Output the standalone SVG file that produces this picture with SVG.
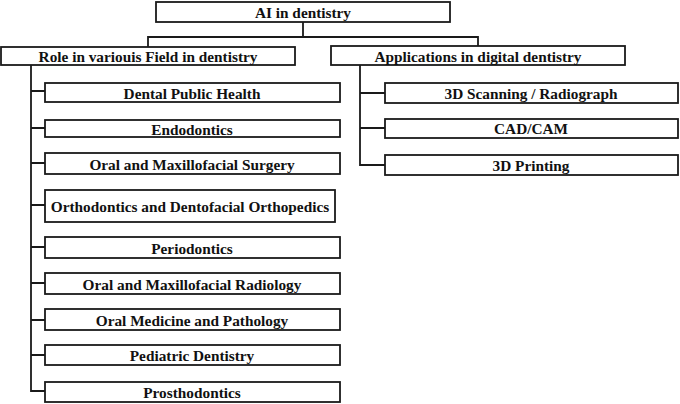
<svg xmlns="http://www.w3.org/2000/svg" width="680" height="404" viewBox="0 0 680 404">
<style>
.box{fill:#fff;stroke:#1a1a1a;stroke-width:1.8}
.t{font-family:"Liberation Serif","Times New Roman",serif;font-weight:bold;font-size:15.3px;fill:#111;text-anchor:middle;dominant-baseline:central}
.c{fill:none;stroke:#1a1a1a;stroke-width:1.8}
</style>
<rect width="680" height="404" fill="#fff"/>
<g id="connectors">
<path class="c" d="M303 22V37M148 47V37H478V47"/>
<path class="c" d="M31 65V391H45M31 91H45M31 128H45M31 163H45M31 205H45M31 247H45M31 283H45M31 320H45M31 355H45"/>
<path class="c" d="M360 65V165H385M360 93H385M360 128H385"/>
</g>
<g id="root"><rect class="box" x="156" y="2" width="294" height="20"/><text class="t" x="303" y="12.5">AI in dentistry</text></g>
<g id="role"><rect class="box" x="1" y="47" width="294" height="18"/><text class="t" x="148" y="56.5">Role in variouis Field in dentistry</text></g>
<g id="apps"><rect class="box" x="331" y="46" width="294" height="19"/><text class="t" x="478" y="56">Applications in digital dentistry</text></g>
<g id="dph"><rect class="box" x="45" y="83" width="295" height="19"/><text class="t" x="192" y="93">Dental Public Health</text></g>
<g id="endo"><rect class="box" x="45" y="120" width="295" height="17"/><text class="t" x="192" y="129">Endodontics</text></g>
<g id="oms"><rect class="box" x="45" y="153" width="295" height="21"/><text class="t" x="192" y="164">Oral and Maxillofacial Surgery</text></g>
<g id="ortho"><rect class="box" x="45" y="190" width="290" height="32"/><text class="t" x="190" y="206.5">Orthodontics and Dentofacial Orthopedics</text></g>
<g id="perio"><rect class="box" x="45" y="237" width="295" height="21"/><text class="t" x="192" y="248">Periodontics</text></g>
<g id="omr"><rect class="box" x="45" y="273" width="295" height="21"/><text class="t" x="192" y="284">Oral and Maxillofacial Radiology</text></g>
<g id="omp"><rect class="box" x="45" y="309" width="295" height="21"/><text class="t" x="192" y="320">Oral Medicine and Pathology</text></g>
<g id="ped"><rect class="box" x="45" y="345" width="295" height="20"/><text class="t" x="192" y="355.5">Pediatric Dentistry</text></g>
<g id="pros"><rect class="box" x="45" y="382" width="295" height="20"/><text class="t" x="192" y="392.5">Prosthodontics</text></g>
<g id="scan"><rect class="box" x="385" y="83" width="293" height="20"/><text class="t" x="531" y="93.5">3D Scanning / Radiograph</text></g>
<g id="cad"><rect class="box" x="385" y="119" width="293" height="19"/><text class="t" x="531" y="128.5">CAD/CAM</text></g>
<g id="print"><rect class="box" x="385" y="155" width="293" height="20"/><text class="t" x="531" y="165.5">3D Printing</text></g>
</svg>
